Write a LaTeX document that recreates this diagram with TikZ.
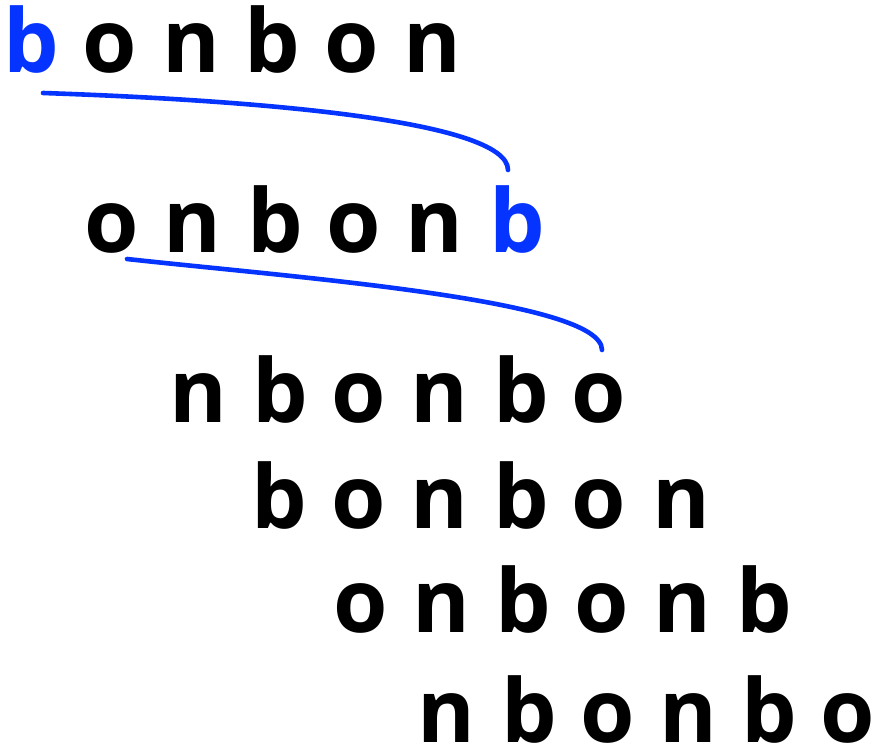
\documentclass[tikz,border=0pt]{standalone}
\usepackage{fontspec}
\setmainfont{Open Sans}
\definecolor{arcblue}{RGB}{5,51,255}
\begin{document}
\begin{tikzpicture}[x=1pt,y=-1pt,
  letter/.style={inner sep=0pt,outer sep=0pt,anchor=base,font=\fontsize{88}{100}\selectfont\bfseries},
  hilite/.style={letter,text=arcblue},
  link/.style={draw=arcblue,line width=4.6pt,line cap=round}]
\useasboundingbox (0,0) rectangle (875,751);
% row 1
\node[hilite] (r1c1) at (31,73) {b};
\foreach \ch/\x [count=\i from 2] in {o/110,n/191,b/272,o/352,n/432}
  \node[letter] (r1c\i) at (\x,73) {\ch};
% row 2
\foreach \ch/\x [count=\i] in {o/112,n/192,b/275,o/354,n/434}
  \node[letter] (r2c\i) at (\x,253) {\ch};
\node[hilite] (r2c6) at (517,253) {b};
% row 3
\foreach \ch/\x [count=\i] in {n/198,b/280,o/359,n/439,b/521,o/599}
  \node[letter] (r3c\i) at (\x,422) {\ch};
% row 4
\foreach \ch/\x [count=\i] in {b/279,o/359,n/439,b/521,o/599,n/681}
  \node[letter] (r4c\i) at (\x,528) {\ch};
% row 5
\foreach \ch/\x [count=\i] in {o/361,n/441,b/523,o/602,n/682,b/764}
  \node[letter] (r5c\i) at (\x,632) {\ch};
% row 6
\foreach \ch/\x [count=\i] in {n/446,b/529,o/608,n/688,b/769,o/848}
  \node[letter] (r6c\i) at (\x,742) {\ch};
% arcs
\coordinate (a1s) at (43,93);
\coordinate (a1e) at (508,170);
\coordinate (a2s) at (127,259);
\coordinate (a2e) at (602,350);
\draw[link] (a1s) .. controls (250,100) and (508,120) .. (a1e);
\draw[link] (a2s) .. controls (300,278) and (602,300) .. (a2e);
\end{tikzpicture}
\end{document}
